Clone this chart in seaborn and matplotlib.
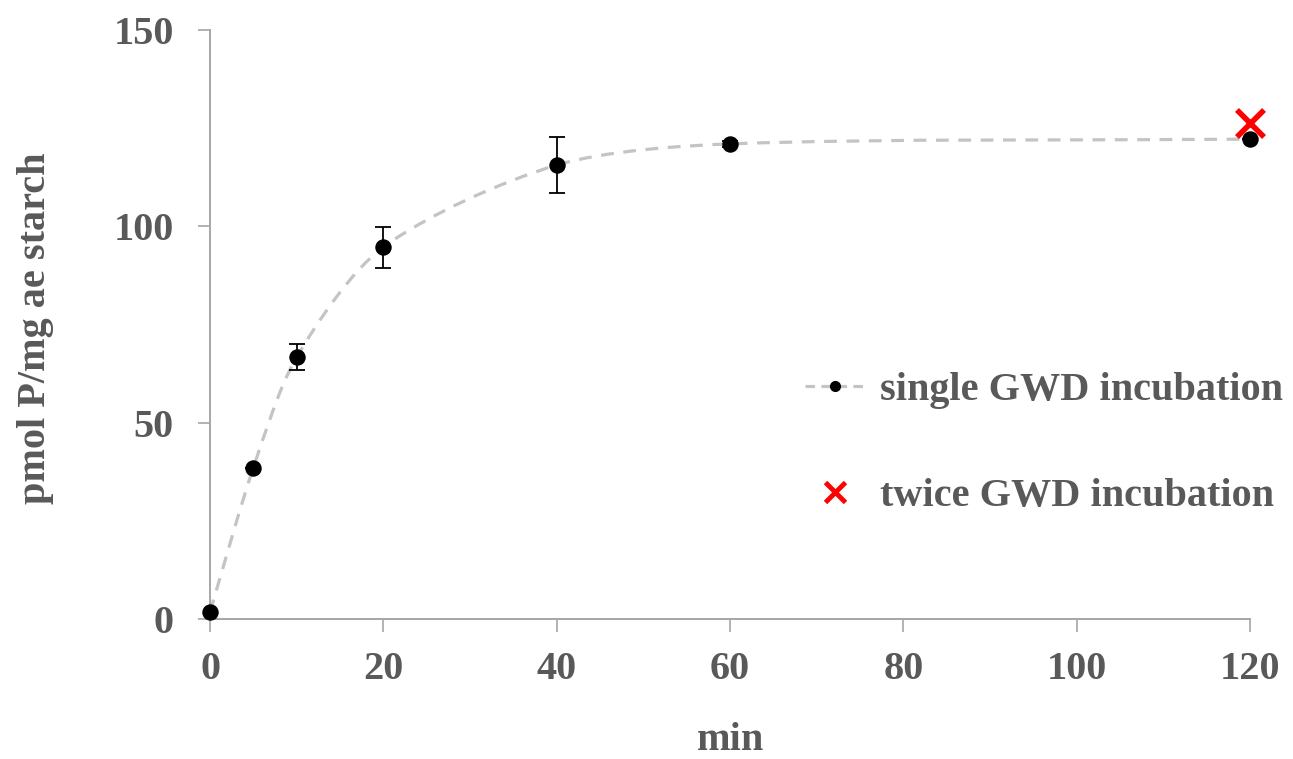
import numpy as np
import pandas as pd
import matplotlib
matplotlib.use("Agg")
import matplotlib.pyplot as plt
import seaborn as sns
from matplotlib.path import Path
from matplotlib.patches import PathPatch
from matplotlib.lines import Line2D

# Datos
tiempo = [0, 5, 10, 20, 40, 60, 120]
fosfato_simple = [1.8, 38.5, 66.7, 94.7, 115.6, 121.0, 122.2]
error_simple = [0, 0, 3.3, 5.2, 7.1, 0.8, 0]
tiempo_doble = [120]
fosfato_doble = [126.2]

etiqueta_simple = "single GWD incubation"
etiqueta_doble = "twice GWD incubation"

gris_texto = "#595959"
gris_eje = "#a6a6a6"
gris_linea = "#c4c4c4"
tam = 29

sns.set_style("white")
plt.rcParams['font.family'] = ['Liberation Serif', 'DejaVu Serif']
plt.rcParams['font.weight'] = 'bold'


def curva_suave(xs, ys, sx, sy):
    # Curva suavizada (Bezier por tramos) a partir de los puntos, en escala de pantalla
    pts = np.column_stack([np.asarray(xs, float) * sx, np.asarray(ys, float) * sy])
    n = len(pts)

    def unit(v):
        return v / np.hypot(*v)

    verts = [pts[0]]
    codes = [Path.MOVETO]
    for i in range(n - 1):
        p0 = pts[i - 1] if i > 0 else pts[i]
        p1 = pts[i]
        p2 = pts[i + 1]
        p3 = pts[i + 2] if i + 2 < n else pts[i + 1]
        d = np.hypot(*(p2 - p1)) / 3.5
        c1 = p1 + unit(p2 - p0) * d
        c2 = p2 - unit(p3 - p1) * d
        verts += [c1, c2, p2]
        codes += [Path.CURVE4] * 3
    verts = np.array(verts) / np.array([sx, sy])
    return Path(verts, codes)


df = pd.DataFrame({'min': tiempo, 'valor': fosfato_simple, 'err': error_simple})
df_doble = pd.DataFrame({'min': tiempo_doble, 'valor': fosfato_doble})

fig = plt.figure(figsize=(12.93, 7.59), dpi=100)
ax = fig.add_axes([210 / 1293, 1 - 619 / 759, 1040 / 1293, 589 / 759])

ax.set_xlim(0, 120)
ax.set_ylim(0, 150)

# Linea suavizada discontinua
parche = PathPatch(curva_suave(df['min'], df['valor'], 1040 / 120, 589 / 150),
                   facecolor='none', edgecolor=gris_linea, lw=2.3,
                   linestyle=(0, (4, 3)), zorder=1, clip_on=False)
ax.add_patch(parche)

# Barras de error
ax.errorbar(df['min'], df['valor'], yerr=df['err'], fmt='none', ecolor='black',
            elinewidth=1.3, capsize=6, capthick=1.3, zorder=2)

# Puntos
sns.scatterplot(data=df, x='min', y='valor', color='black', s=140,
                edgecolor='black', linewidth=0, ax=ax, zorder=3, legend=False,
                clip_on=False)
sns.scatterplot(data=df_doble, x='min', y='valor', color='#ff0000', marker='x',
                s=380, linewidth=4, ax=ax, zorder=4, legend=False, clip_on=False)

ax.set_xticks([0, 20, 40, 60, 80, 100, 120])
ax.set_yticks([0, 50, 100, 150])

for lado in ['top', 'right']:
    ax.spines[lado].set_visible(False)
for lado in ['left', 'bottom']:
    ax.spines[lado].set_color(gris_eje)
    ax.spines[lado].set_linewidth(1.4)

ax.tick_params(axis='both', direction='out', length=9, width=1.2, color=gris_eje,
               labelsize=tam, labelcolor=gris_texto, pad=14)
ax.tick_params(axis='y', pad=17)
ax.tick_params(axis='x', bottom=True)
ax.tick_params(axis='y', left=True)
for t in ax.get_xticklabels() + ax.get_yticklabels():
    t.set_fontweight('bold')

ax.set_xlabel('min', fontsize=tam, color=gris_texto, fontweight='bold', va='center')
ax.set_ylabel('pmol P/mg ae starch', fontsize=tam, color=gris_texto, fontweight='bold',
              va='center')
ax.xaxis.set_label_coords(0.5, (619 - 740) / 589)
ax.yaxis.set_label_coords((36 - 210) / 1040, (619 - 328) / 589)

# Leyenda
h_simple = Line2D([], [], color=gris_linea, lw=2.3, linestyle=(0, (3, 2)),
                  marker='o', markersize=7, markerfacecolor='black', markeredgecolor='black')
h_doble = Line2D([], [], color='#ff0000', lw=0, marker='x', markersize=14,
                 markeredgewidth=3.5)
leg = ax.legend([h_simple, h_doble], [etiqueta_simple, etiqueta_doble],
                loc='center left', bbox_to_anchor=((805 - 210) / 1040, (619 - 443.5) / 589),
                frameon=False, handlelength=1.5, handletextpad=0.37,
                borderpad=0, borderaxespad=0, labelspacing=1.7,
                prop={'family': 'Liberation Serif', 'weight': 'bold', 'size': tam})
for t in leg.get_texts():
    t.set_color(gris_texto)

fig.savefig('out.png', dpi=100, facecolor='white')
